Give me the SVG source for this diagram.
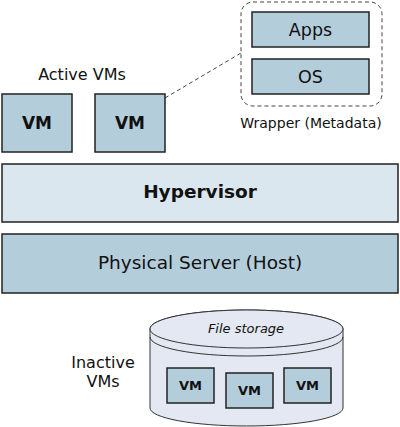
<svg xmlns="http://www.w3.org/2000/svg" width="400" height="427" viewBox="0 0 400 427">
<style>
text{font-family:"DejaVu Sans",Verdana,sans-serif;fill:#111;text-anchor:middle}
.vm{fill:#b4cddb;stroke:#222;stroke-width:1.5}
.b{font-weight:bold}
.ln{fill:none;stroke:#444;stroke-width:1;stroke-dasharray:4,3}
.cyl{fill:#e3e8f3;stroke:#333;stroke-width:1}
</style>
<rect width="400" height="427" fill="#fff"/>
<g id="connectors">
<line class="ln" x1="165" y1="98" x2="241" y2="53"/>
</g>
<g id="wrapper">
<rect x="241" y="2" width="141" height="104" rx="12" class="ln" stroke-width="1.2"/>
<text x="311" y="128" font-size="14">Wrapper (Metadata)</text>
</g>
<g id="apps">
<rect class="vm" x="252" y="12" width="117" height="35" stroke-width="1.2"/>
<text x="310.5" y="36" font-size="17.5">Apps</text>
</g>
<g id="os">
<rect class="vm" x="252" y="59" width="117" height="35" stroke-width="1.2"/>
<text x="310.5" y="83" font-size="17.5">OS</text>
</g>
<g id="active-label">
<text x="82" y="80" font-size="16">Active VMs</text>
</g>
<g id="vm1">
<rect class="vm" x="2" y="94" width="70" height="58"/>
<text class="b" x="37" y="129" font-size="17">VM</text>
</g>
<g id="vm2">
<rect class="vm" x="95" y="94" width="70" height="58"/>
<text class="b" x="130" y="129" font-size="17">VM</text>
</g>
<g id="hypervisor">
<rect x="2" y="164" width="396" height="58" fill="#dbe7ee" stroke="#222" stroke-width="1.5"/>
<text class="b" x="200" y="198" font-size="18.5">Hypervisor</text>
</g>
<g id="physical">
<rect x="2" y="234" width="396" height="59" fill="#b4cddb" stroke="#222" stroke-width="1.5"/>
<text x="200" y="269" font-size="18.5">Physical Server (Host)</text>
</g>
<g id="inactive-label">
<text x="103" y="368" font-size="16">Inactive</text>
<text x="103" y="387" font-size="16">VMs</text>
</g>
<g id="storage">
<path class="cyl" d="M150,329 L150,408 A96.5,18 0 0 0 343,408 L343,329 A96.5,19 0 0 0 150,329 Z"/>
<ellipse class="cyl" cx="246.5" cy="329" rx="96.5" ry="19"/>
<path fill="none" stroke="#333" stroke-width="1" d="M150,337 A96.5,19 0 0 0 343,337"/>
<text x="246" y="333" font-size="13" font-style="italic">File storage</text>
</g>
<g id="svm1">
<rect class="vm" x="167" y="368" width="47" height="35"/>
<text class="b" x="190.5" y="390" font-size="13">VM</text>
</g>
<g id="svm2">
<rect class="vm" x="226" y="373" width="47" height="35"/>
<text class="b" x="249.5" y="395" font-size="13">VM</text>
</g>
<g id="svm3">
<rect class="vm" x="284" y="368" width="47" height="35"/>
<text class="b" x="307.5" y="390" font-size="13">VM</text>
</g>
</svg>
